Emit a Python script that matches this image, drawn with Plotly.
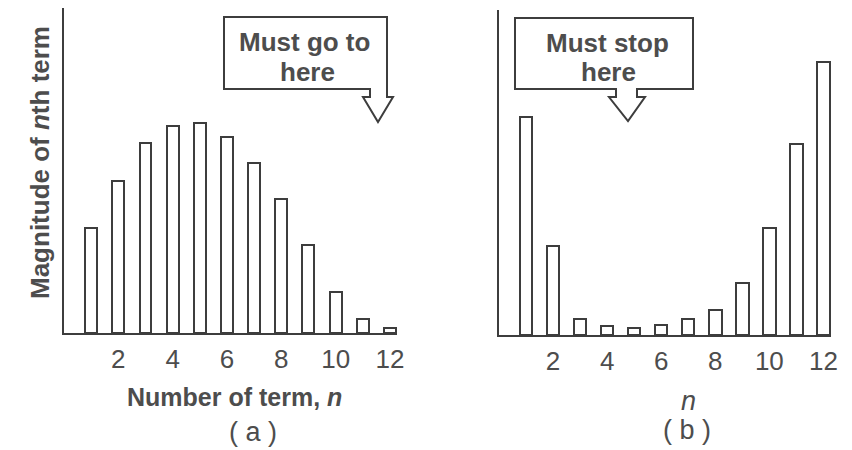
import plotly.graph_objects as go

# term number n (1..12)
terms = list(range(1, 13))
# (a) a series that must be summed to the end
mag_a = [105, 152, 190, 207, 210, 196, 170, 134, 88, 41, 14, 5]
# (b) an asymptotic series that must be cut at its smallest term
mag_b = [218, 89, 16, 9, 7, 10, 16, 25, 52, 107, 191, 273]
tick_vals = [2, 4, 6, 8, 10, 12]
tick_text = ["2", "4", "6", "8", "10", "12"]

W, H = 852, 450
OFF = 8  # the page body has an 8px margin
INK = "#3d3d3d"
TXT = "#4d4d4d"
FONT = "Liberation Sans"


def px(x):
    return (x - OFF) / W


def py(y):
    return min(1, 1 - (y - OFF) / H)


def path(points):
    s = "M " + " L ".join(f"{px(x):.5f},{py(y):.5f}" for x, y in points)
    return s + " Z"


bar_style = dict(color="white", line=dict(color=INK, width=2))

fig = go.Figure()
fig.add_trace(go.Bar(x=terms, y=mag_a, width=0.44, marker=bar_style,
                     xaxis="x", yaxis="y", showlegend=False))
fig.add_trace(go.Bar(x=terms, y=mag_b, width=0.46, marker=bar_style,
                     xaxis="x2", yaxis="y2", showlegend=False))

xcommon = dict(showline=True, linecolor=INK, linewidth=2, showgrid=False,
               zeroline=False, ticks="", tickvals=tick_vals, ticktext=tick_text,
               ticklabelstandoff=2, automargin=False,
               tickfont=dict(family=FONT, size=26, color=TXT))
ycommon = dict(showline=True, linecolor=INK, linewidth=2, showgrid=False,
               zeroline=False, showticklabels=False, ticks="", automargin=False)

fig.update_layout(
    width=W, height=H,
    margin=dict(l=0, r=0, t=0, b=0),
    paper_bgcolor="white", plot_bgcolor="white",
    bargap=0,
    xaxis=dict(domain=[px(64), px(397)], range=[0, 12.26], anchor="y", **xcommon),
    yaxis=dict(domain=[py(333), py(8)], range=[0, 325], anchor="x", **ycommon),
    xaxis2=dict(domain=[px(499), px(831)], range=[0, 12.28], anchor="y2", **xcommon),
    yaxis2=dict(domain=[py(335), py(10)], range=[0, 325], anchor="x2", **ycommon),
)

# callout boxes with arrows
callout_a = [(224, 17), (387, 17), (387, 97), (393, 97), (378, 122), (363, 97),
             (370, 97), (370, 89), (224, 89)]
callout_b = [(515, 18), (693, 18), (693, 89), (637, 89), (637, 97), (645, 97),
             (628, 121), (609, 97), (616, 97), (616, 89), (515, 89)]
for pts in (callout_a, callout_b):
    fig.add_shape(type="path", xref="paper", yref="paper", path=path(pts),
                  line=dict(color=INK, width=2), fillcolor="white")


def label(text, x, y, size=25, angle=0, bold=True):
    fig.add_annotation(text=text, x=px(x), y=py(y), xref="paper", yref="paper",
                       xanchor="center", yanchor="middle", showarrow=False,
                       textangle=angle,
                       font=dict(family=FONT, size=size, color=TXT,
                                 weight="bold" if bold else "normal"))


label("Must go to", 304, 42, size=26)
label("here", 307, 72, size=26)
label("Must stop", 607, 43, size=26)
label("here", 608, 72, size=26)

label("Magnitude of <i>n</i>th term", 40, 163, size=26, angle=-90)
label("Number of term, <i>n</i>", 234, 397, size=25)
label("( a )", 253, 432, size=27, bold=False)
label("<i>n</i>", 688, 401, size=27, bold=False)
label("( b )", 687, 430, size=27, bold=False)

fig.write_html("out.html")
